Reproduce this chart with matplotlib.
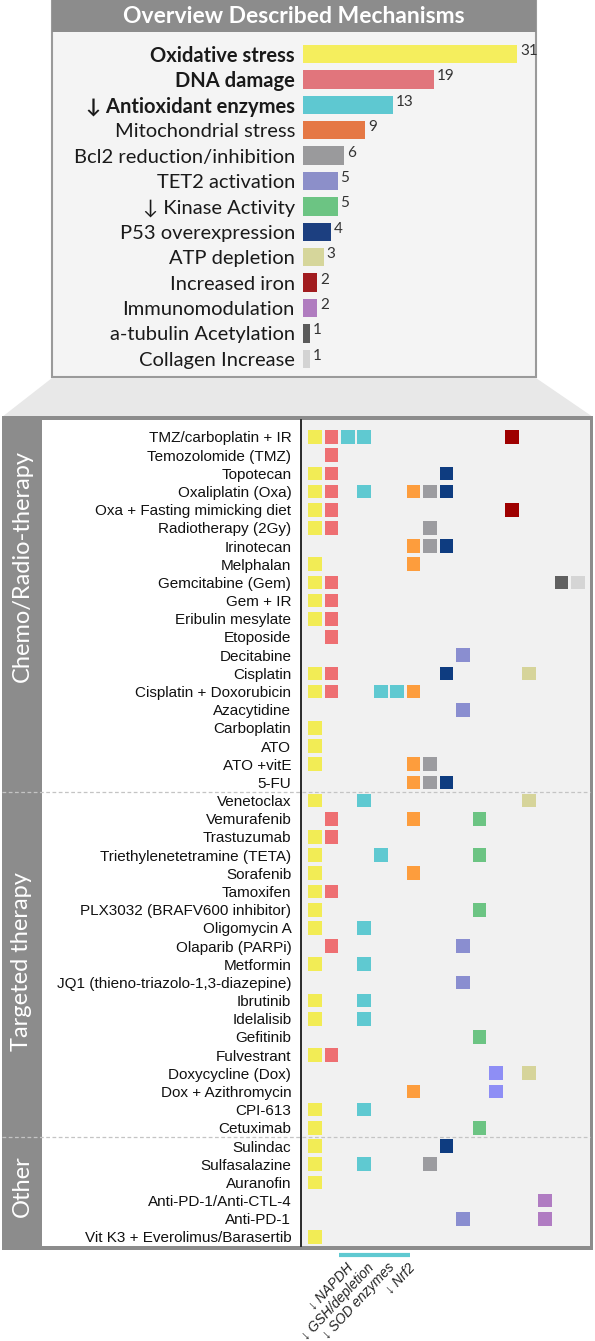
import matplotlib
matplotlib.use("Agg")
import matplotlib.pyplot as plt
from matplotlib.patches import Rectangle, Polygon
from matplotlib.transforms import blended_transform_factory

W, H = 595, 1341

# top panel: overview of mechanisms
mechanisms = ["Oxidative stress", "DNA damage", "\u2193 Antioxidant enzymes", "Mitochondrial stress",
              "Bcl2 reduction/inhibition", "TET2 activation", "\u2193 Kinase Activity", "P53 overexpression",
              "ATP depletion", "Increased iron", "Immunomodulation", "a-tubulin Acetylation",
              "Collagen Increase"]
counts = [31, 19, 13, 9, 6, 5, 5, 4, 3, 2, 2, 1, 1]
bar_colors = ["#f5ee5d", "#e1757c", "#5ec8d1", "#e57845", "#9a9a9c", "#8c8fc9", "#6cc483",
              "#1c3f80", "#d6d69b", "#a11c1f", "#b07cbf", "#5b5b5b", "#d3d3d3"]
bold_rows = 3

# lower panel: treatments x mechanism columns
col_colors = ["#f2ec55", "#ee6f72", "#5fc9d1", "#5fc9d1", "#5fc9d1", "#5fc9d1", "#fd9d3d",
              "#9c9ca0", "#0e3c80", "#8a8ed0", "#6cc483", "#8e8ef5", "#9e0000", "#d6d49a",
              "#b07cc2", "#606060", "#d5d5d5"]
antiox_cols = [2, 3, 4, 5]
antiox_labels = ["\u2193 NAPDH", "\u2193 GSH/depletion", "\u2193 SOD enzymes", "\u2193 Nrf2"]

groups = ["Chemo/Radio-therapy", "Targeted therapy", "Other"]
group_sizes = [20, 19, 6]

drugs = ["TMZ/carboplatin + IR", "Temozolomide (TMZ)", "Topotecan", "Oxaliplatin (Oxa)",
         "Oxa + Fasting mimicking diet", "Radiotherapy (2Gy)", "Irinotecan", "Melphalan",
         "Gemcitabine (Gem)", "Gem + IR", "Eribulin mesylate", "Etoposide", "Decitabine",
         "Cisplatin", "Cisplatin + Doxorubicin", "Azacytidine", "Carboplatin", "ATO",
         "ATO +vitE", "5-FU",
         "Venetoclax", "Vemurafenib", "Trastuzumab", "Triethylenetetramine (TETA)", "Sorafenib",
         "Tamoxifen", "PLX3032 (BRAFV600 inhibitor)", "Oligomycin A", "Olaparib (PARPi)",
         "Metformin", "JQ1 (thieno-triazolo-1,3-diazepine)", "Ibrutinib", "Idelalisib",
         "Gefitinib", "Fulvestrant", "Doxycycline (Dox)", "Dox + Azithromycin", "CPI-613",
         "Cetuximab",
         "Sulindac", "Sulfasalazine", "Auranofin", "Anti-PD-1/Anti-CTL-4", "Anti-PD-1",
         "Vit K3 + Everolimus/Barasertib"]
hits = [[0, 1, 2, 3, 12], [1], [0, 1, 8], [0, 1, 3, 6, 7, 8], [0, 1, 12], [0, 1, 7], [6, 7, 8],
        [0, 6], [0, 1, 15, 16], [0, 1], [0, 1], [1], [9], [0, 1, 8, 13], [0, 1, 4, 5, 6], [9],
        [0], [0], [0, 6, 7], [6, 7, 8],
        [0, 3, 13], [1, 6, 10], [0, 1], [0, 4, 10], [0, 6], [0, 1], [0, 10], [0, 3], [1, 9],
        [0, 3], [9], [0, 3], [0, 3], [10], [0, 1], [11, 13], [6, 11], [0, 3], [0, 10],
        [0, 8], [0, 3, 7], [0], [14], [9, 14], [0]]

LATO = ["Lato", "DejaVu Sans"]
ARIAL = ["Liberation Sans", "DejaVu Sans"]


def px_box(x0, y0, x1, y1):
    return [x0 / W, 1 - y1 / H, (x1 - x0) / W, (y1 - y0) / H]


fig = plt.figure(figsize=(W / 100, H / 100), dpi=100)
fig.patch.set_facecolor("white")

# background shapes in pixel coordinates
bg = fig.add_axes([0, 0, 1, 1])
bg.set_xlim(0, W)
bg.set_ylim(H, 0)
bg.axis("off")
bg.add_patch(Rectangle((52, 1), 484, 376, fc="#f4f4f4", ec="#9a9a9a", lw=1.5))
bg.add_patch(Rectangle((52, 0), 484, 32, fc="#8c8c8c", ec="none"))
bg.text(294, 16.5, "Overview Described Mechanisms", color="white", fontsize=16.5,
        fontweight="bold", family=LATO, ha="center", va="center")
bg.add_patch(Polygon([(52, 378), (536, 378), (593, 417), (2, 417)], closed=True,
                     fc="#e8e8e8", ec="none"))
bg.add_patch(Rectangle((2, 416), 591, 834, fc="#8c8c8c", ec="none"))
bg.add_patch(Rectangle((42, 420), 259, 826, fc="white", ec="none"))
bg.add_patch(Rectangle((301, 420), 289, 826, fc="#f1f1f1", ec="none"))
bg.plot([300.5, 300.5], [420, 1246], color="#1a1a1a", lw=1.3)

# bar chart of mechanism counts
ax_b = fig.add_axes(px_box(303, 41.3, 536, 371.5))
ax_b.patch.set_alpha(0)
ypos = list(range(len(mechanisms)))
ax_b.barh(ypos, counts, height=0.72, color=bar_colors)
for y, v in zip(ypos, counts):
    ax_b.text(v + 0.45, y - 0.12, str(v), va="center", ha="left", fontsize=11,
              color="#333333", family=LATO)
ax_b.set_xlim(0, 233 / 6.9)
ax_b.set_ylim(len(mechanisms) - 0.5, -0.5)
ax_b.set_yticks(ypos)
ax_b.set_yticklabels(mechanisms, family=LATO, fontsize=14.5, color="#1a1a1a")
for i, lab in enumerate(ax_b.get_yticklabels()):
    if i < bold_rows:
        lab.set_fontweight("bold")
ax_b.set_xticks([])
ax_b.tick_params(axis="y", length=0, pad=5.8)
for s in ax_b.spines.values():
    s.set_visible(False)

# matrix of treatments
row_top, row_step = 437, 18.18
col_left, col_step = 315, 16.44
ax_m = fig.add_axes(px_box(301, 420, 590, 1246))
ax_m.patch.set_alpha(0)
xs, ys, cs = [], [], []
for r, cols in enumerate(hits):
    for c in cols:
        xs.append(c)
        ys.append(r)
        cs.append(col_colors[c])
ax_m.scatter(xs, ys, s=97, marker="s", c=cs, edgecolors="none")
ax_m.set_xlim((301 - col_left) / col_step, (590 - col_left) / col_step)
ax_m.set_ylim((1246 - row_top) / row_step, (420 - row_top) / row_step)
ax_m.set_yticks(range(len(drugs)))
ax_m.set_yticklabels(drugs, family=ARIAL, fontsize=11, color="#111111")
ax_m.set_xticks([])
ax_m.tick_params(axis="y", length=0, pad=7)
for s in ax_m.spines.values():
    s.set_visible(False)

# dashed separators between groups
trans = blended_transform_factory(fig.transFigure, ax_m.transData)
edge = -0.5
for n in group_sizes[:-1]:
    edge += n
    ax_m.plot([2 / W, 590 / W], [edge, edge], transform=trans, color="#c4c4c4", lw=0.9,
              ls=(0, (3, 2)), clip_on=False)

# group names in the side bar
for name, yc in zip(groups, [566, 962, 1186]):
    fig.text(22 / W, 1 - yc / H, name, rotation=90, color="white", fontsize=17,
             family=LATO, ha="center", va="center")

# antioxidant sub-columns: bracket and fanned labels
ax_m.plot([1.45, 5.75], [45.0, 45.0], color="#5fc9d1", lw=3, solid_capstyle="butt",
          clip_on=False)
for i, lab in enumerate(antiox_labels):
    bg.text(351 + 20.5 * i, 1265, lab, rotation=47, rotation_mode="anchor", ha="right",
            va="center", fontsize=9.8, style="italic", family=ARIAL, color="#222222")

fig.savefig("out.png", dpi=100)
